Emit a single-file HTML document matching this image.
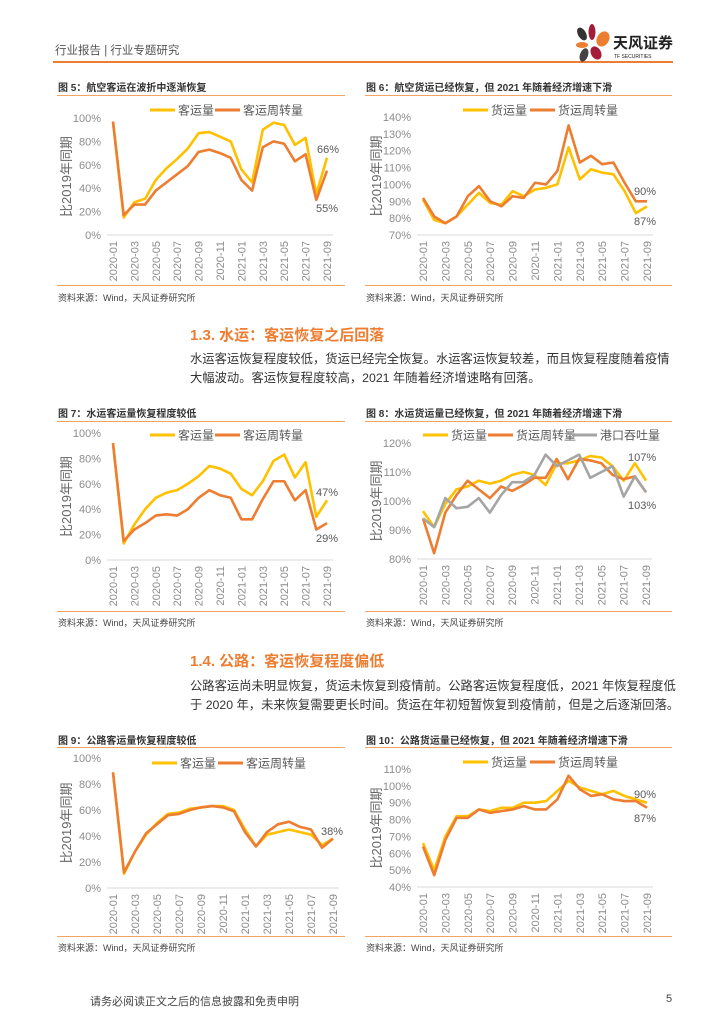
<!DOCTYPE html>
<html><head><meta charset="utf-8">
<style>
body{margin:0;background:#fff;}
#page{position:relative;width:724px;height:1024px;overflow:hidden;font-family:"Liberation Sans","Noto Sans CJK SC",sans-serif;color:#333;}
.t{position:absolute;white-space:nowrap;}
.hline{position:absolute;height:1px;background:#F4A460;}
.ftitle{position:absolute;font-size:10px;font-weight:bold;color:#333;}
.src{position:absolute;font-size:9px;color:#444;}
.h2{position:absolute;font-size:15px;color:#ED7D31;font-weight:bold;}
.para{position:absolute;font-size:12.3px;color:#333;line-height:19px;white-space:nowrap;}
svg text{font-family:"Liberation Sans","Noto Sans CJK SC",sans-serif;}
</style></head>
<body>
<div id="page">
<div class="t" style="left:55px;top:42px;font-size:11.5px;color:#555;">行业报告 | 行业专题研究</div>
<div style="position:absolute;left:53px;top:61px;width:620px;height:2px;background:#ED7D31;"></div>
<div style="position:absolute;left:568px;top:22px;width:110px;height:40px;">
 <svg width="110" height="40">
  <ellipse cx="14" cy="12" rx="4" ry="7" fill="#333" transform="rotate(-30 14 12)"/>
  <ellipse cx="24" cy="10" rx="3.5" ry="8" fill="#A31D3B"/>
  <ellipse cx="35" cy="17" rx="6" ry="8" fill="#ED7D31" transform="rotate(30 35 17)"/>
  <ellipse cx="14" cy="23" rx="6" ry="3" fill="#ED7D31"/>
  <ellipse cx="16" cy="33" rx="4" ry="7" fill="#444" transform="rotate(20 16 33)"/>
  <ellipse cx="28" cy="31" rx="5" ry="7" fill="#A31D3B" transform="rotate(-30 28 31)"/>
  <text x="45" y="26" font-size="15" font-weight="bold" fill="#222">天风证券</text>
  <text x="46" y="36" font-size="5" fill="#222">TF SECURITIES</text>
 </svg>
</div>

<div class="ftitle" style="left:58px;top:79px;">图 5：航空客运在波折中逐渐恢复</div>
<div class="hline" style="left:57px;top:95px;width:288px;"></div>
<div class="hline" style="left:57px;top:285px;width:288px;"></div>
<div class="src" style="left:58px;top:291px;">资料来源：Wind，天风证券研究所</div>

<div class="ftitle" style="left:366px;top:79px;">图 6：航空货运已经恢复，但 2021 年随着经济增速下滑</div>
<div class="hline" style="left:365px;top:95px;width:307px;"></div>
<div class="hline" style="left:365px;top:285px;width:307px;"></div>
<div class="src" style="left:366px;top:291px;">资料来源：Wind，天风证券研究所</div>

<div class="h2" style="left:190px;top:324px;">1.3. 水运：客运恢复之后回落</div>
<div class="para" style="left:190px;top:350px;">水运客运恢复程度较低，货运已经完全恢复。水运客运恢复较差，而且恢复程度随着疫情<br>大幅波动。客运恢复程度较高，2021 年随着经济增速略有回落。</div>

<div class="ftitle" style="left:58px;top:405px;">图 7：水运客运量恢复程度较低</div>
<div class="hline" style="left:57px;top:421px;width:288px;"></div>
<div class="hline" style="left:57px;top:611px;width:288px;"></div>
<div class="src" style="left:58px;top:616px;">资料来源：Wind，天风证券研究所</div>

<div class="ftitle" style="left:366px;top:405px;">图 8：水运货运量已经恢复，但 2021 年随着经济增速下滑</div>
<div class="hline" style="left:365px;top:421px;width:307px;"></div>
<div class="hline" style="left:365px;top:611px;width:307px;"></div>
<div class="src" style="left:366px;top:616px;">资料来源：Wind，天风证券研究所</div>

<div class="h2" style="left:190px;top:650px;">1.4. 公路：客运恢复程度偏低</div>
<div class="para" style="left:190px;top:677px;">公路客运尚未明显恢复，货运未恢复到疫情前。公路客运恢复程度低，2021 年恢复程度低<br>于 2020 年，未来恢复需要更长时间。货运在年初短暂恢复到疫情前，但是之后逐渐回落。</div>

<div class="ftitle" style="left:58px;top:732px;">图 9：公路客运量恢复程度较低</div>
<div class="hline" style="left:57px;top:747px;width:288px;"></div>
<div class="hline" style="left:57px;top:936px;width:288px;"></div>
<div class="src" style="left:58px;top:941px;">资料来源：Wind，天风证券研究所</div>

<div class="ftitle" style="left:366px;top:732px;">图 10：公路货运量已经恢复，但 2021 年随着经济增速下滑</div>
<div class="hline" style="left:365px;top:747px;width:307px;"></div>
<div class="hline" style="left:365px;top:936px;width:307px;"></div>
<div class="src" style="left:366px;top:941px;">资料来源：Wind，天风证券研究所</div>

<div class="t" style="left:90px;top:993px;font-size:11px;color:#444;">请务必阅读正文之后的信息披露和免责申明</div>
<div class="t" style="left:666px;top:993px;font-size:11px;color:#444;">5</div>

<svg id="charts" width="724" height="1024" style="position:absolute;left:0;top:0;"></svg>
</div>
<script>
const months = ["2020-01","2020-02","2020-03","2020-04","2020-05","2020-06","2020-07","2020-08","2020-09","2020-10","2020-11","2020-12","2021-01","2021-02","2021-03","2021-04","2021-05","2021-06","2021-07","2021-08","2021-09"];
const c5Passenger = [97,15,28,31,47,57,65,74,87,88,84,80,56,45,90,96,94,77,83,35,66];
const c5PassengerKm = [97,17,26,26,38,45,52,59,71,73,70,66,47,38,75,80,78,63,69,30,55];
const c5Ticks = [0,20,40,60,80,100];
const c6Freight = [91,79,77,81,88,95,89,88,96,93,97,98,100,122,103,109,107,106,96,83,87];
const c6FreightKm = [92,81,77,81,93,99,90,87,93,92,101,100,108,135,113,117,112,113,101,90,90];
const c6Ticks = [70,80,90,100,110,120,130,140];
const c7Passenger = [92,13,28,40,49,53,55,60,66,74,72,68,56,51,62,78,83,65,77,34,47];
const c7PassengerKm = [92,15,24,29,35,36,35,40,49,55,51,49,32,32,48,62,62,47,55,24,29];
const c7Ticks = [0,20,40,60,80,100];
const c8Freight = [96.5,91,99,104,105,107,106,107,109,110,109,105.5,113,113,114,115.5,115,112,107,113,107];
const c8FreightKm = [94,82,96,102,107,104,101,105,103.5,105.5,108,108,114.5,107.5,114.5,114,113,109,107.5,108.5,103];
const c8Port = [94,91,101,97.5,98,101,96,102,106.5,106.5,109,116,112,114,116,108,110,112,101.5,108.5,103];
const c8Ticks = [80,90,100,110,120];
const c9Passenger = [89,11,28,41,50,57,58,61,62,63,63,60,45,32,41,43,45,43,41,33,38];
const c9PassengerKm = [89,12,28,42,49,56,57,60,62,63,62,59,43,32,43,49,51,47,45,31,38];
const c9Ticks = [0,20,40,60,80,100];
const c10Freight = [66,50,70,82,82,86,85,87,87,90,90,91,97,103,99,97,95,97,94,92,90];
const c10FreightKm = [64,47,68,81,81,86,84,85,86,88,86,86,92,106,98,94,95,92,91,91,87];
const c10Ticks = [40,50,60,70,80,90,100,110];

const YEL="#FFC000", ORG="#ED7D31", GRY="#A5A5A5";
const NS="http://www.w3.org/2000/svg";
const root=document.getElementById('charts');
function mk(tag,attrs,parent){const e=document.createElementNS(NS,tag);for(const k in attrs)e.setAttribute(k,attrs[k]);(parent||root).appendChild(e);return e;}

function chart(id,x0,x1,yTop,yBot,ticks,series,legend,legY,notes){
  const g=mk('g',{});
  
  
  const tmin=ticks[0],tmax=ticks[ticks.length-1];
  const sx=i=>x0+(x1-x0)*i/(months.length-1);
  const sy=v=>yBot-(yBot-yTop)*(v-tmin)/(tmax-tmin);
  ticks.forEach(t=>{
    const tx=mk('text',{x:x0-12,y:sy(t)+4,'font-size':11,fill:'#8c8c8c','text-anchor':'end'},g);
    tx.textContent=t+'%';
    
    
  });
  const ax=mk('line',{x1:x0-6,x2:x1+6,y1:yBot,y2:yBot,stroke:'#d9d9d9','stroke-width':1},g);
  
  
  months.forEach((m,i)=>{
    if(i%2)return;
    const tx=mk('text',{x:0,y:0,'font-size':11,fill:'#8c8c8c','text-anchor':'end',transform:`translate(${sx(i)+4},${yBot+6}) rotate(-90)`},g);
    tx.textContent=m;
    
    
  });
  const yt=mk('text',{x:0,y:0,'font-size':13,fill:'#666','text-anchor':'middle',transform:`translate(${x0-42},${(yTop+yBot)/2}) rotate(-90)`},g);
  yt.textContent='比2019年同期';
  
  
  series.forEach(s=>{
    const p=mk('polyline',{points:s.v.map((v,i)=>sx(i)+','+sy(v)).join(' '),fill:'none',stroke:s.c,'stroke-width':2.6,'stroke-linejoin':'round'},g);
    
    
  });
  legend.forEach(l=>{
    const ln=mk('line',{x1:l.x,x2:l.x+25,y1:legY,y2:legY,stroke:l.c,'stroke-width':3},g);
    
    
    const tx=mk('text',{x:l.x+28,y:legY+4.5,'font-size':12,fill:'#595959'},g);
    tx.textContent=l.t;
    
    
  });
  notes.forEach(n=>{
    const tx=mk('text',{x:n.x,y:n.y,'font-size':11,fill:'#595959'},g);
    tx.textContent=n.t;
    
    
  });
}
chart('chart-fig5',113,327,118,235,c5Ticks,[{v:c5Passenger,c:YEL},{v:c5PassengerKm,c:ORG}],
  [{x:150,c:YEL,t:'客运量'},{x:215,c:ORG,t:'客运周转量'}],110,
  [{x:317,y:153,t:c5Passenger[20]+'%'},{x:316,y:212,t:c5PassengerKm[20]+'%'}]);
chart('chart-fig6',423,647,117,235,c6Ticks,[{v:c6Freight,c:YEL},{v:c6FreightKm,c:ORG}],
  [{x:463,c:YEL,t:'货运量'},{x:530,c:ORG,t:'货运周转量'}],110,
  [{x:634,y:195,t:c6FreightKm[20]+'%'},{x:634,y:225,t:c6Freight[20]+'%'}]);
chart('chart-fig7',113,327,433,560,c7Ticks,[{v:c7Passenger,c:YEL},{v:c7PassengerKm,c:ORG}],
  [{x:150,c:YEL,t:'客运量'},{x:215,c:ORG,t:'客运周转量'}],435,
  [{x:316,y:496,t:c7Passenger[20]+'%'},{x:316,y:542,t:c7PassengerKm[20]+'%'}]);
chart('chart-fig8',423,646,443,559,c8Ticks,[{v:c8Freight,c:YEL},{v:c8FreightKm,c:ORG},{v:c8Port,c:GRY}],
  [{x:423,c:YEL,t:'货运量'},{x:488,c:ORG,t:'货运周转量'},{x:572,c:GRY,t:'港口吞吐量'}],435,
  [{x:628,y:461,t:c8Freight[20]+'%'},{x:628,y:509,t:c8Port[20]+'%'}]);
chart('chart-fig9',113,333,758,888,c9Ticks,[{v:c9Passenger,c:YEL},{v:c9PassengerKm,c:ORG}],
  [{x:152,c:YEL,t:'客运量'},{x:218,c:ORG,t:'客运周转量'}],763,
  [{x:321,y:835,t:c9Passenger[20]+'%'}]);
chart('chart-fig10',423,647,769,887,c10Ticks,[{v:c10Freight,c:YEL},{v:c10FreightKm,c:ORG}],
  [{x:463,c:YEL,t:'货运量'},{x:530,c:ORG,t:'货运周转量'}],762,
  [{x:634,y:798,t:c10Freight[20]+'%'},{x:634,y:822,t:c10FreightKm[20]+'%'}]);
</script>
</body></html>
